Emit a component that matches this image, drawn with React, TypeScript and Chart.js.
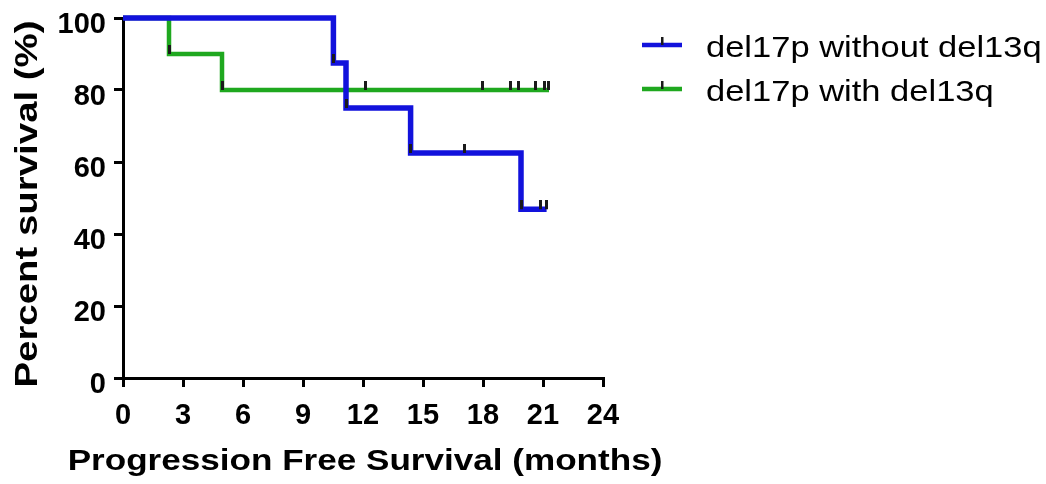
import React, { useEffect, useRef } from 'react';
import { Chart, registerables } from 'chart.js';

Chart.register(...registerables);

// ---- data ----
const seriesLabels = ['del17p without del13q', 'del17p with del13q'];
const seriesColors = ['#1212dc', '#1fa81f'];

// del17p without del13q: Kaplan-Meier steps
const blueTimes = [0, 10.52, 11.15, 14.38, 19.9, 21.18];
const blueSurvival = [100, 87.5, 75, 62.5, 46.875, 46.875];
const blueCensorTimes = [10.52, 11.15, 14.38, 17.07, 19.9, 20.85, 21.15];
const blueCensorSurvival = [87.5, 75, 62.5, 62.5, 46.875, 46.875, 46.875];

// del17p with del13q
const greenTimes = [0, 2.3, 4.95, 21.3];
const greenSurvival = [100, 90, 80, 80];
const greenCensorTimes = [2.3, 4.95, 12.13, 17.98, 19.35, 19.77, 20.6, 21.07, 21.27];
const greenCensorSurvival = [90, 80, 80, 80, 80, 80, 80, 80, 80];

const xTickValues = [0, 3, 6, 9, 12, 15, 18, 21, 24];
const yTickValues = [0, 20, 40, 60, 80, 100];

const xTitle = 'Progression Free Survival (months)';
const yTitle = 'Percent survival (%)';

const toPoints = (xs: number[], ys: number[]) => xs.map((x, i) => ({ x, y: ys[i] }));

function makeCensorMark(): HTMLCanvasElement {
  const c = document.createElement('canvas');
  c.width = 3;
  c.height = 18;
  const g = c.getContext('2d')!;
  g.fillStyle = '#1a1a1a';
  g.fillRect(0, 0, 3, 9);
  return c;
}

const textPlugin = {
  id: 'kmText',
  afterDraw(chart: any) {
    const { ctx, chartArea } = chart;
    ctx.save();
    ctx.fillStyle = '#000';
    // x axis title
    ctx.save();
    ctx.font = 'bold 29px "Liberation Sans", Arial, sans-serif';
    ctx.textAlign = 'center';
    ctx.textBaseline = 'alphabetic';
    ctx.translate((chartArea.left + chartArea.right) / 2 + 2, chartArea.bottom + 92);
    ctx.scale(1.21, 1);
    ctx.fillText(xTitle, 0, 0);
    ctx.restore();
    // y axis title
    ctx.save();
    ctx.font = 'bold 32px "Liberation Sans", Arial, sans-serif';
    ctx.textAlign = 'center';
    ctx.textBaseline = 'alphabetic';
    ctx.translate(chartArea.left - 86, (chartArea.top + chartArea.bottom) / 2 + 6);
    ctx.rotate(-Math.PI / 2);
    ctx.scale(1.2, 1);
    ctx.fillText(yTitle, 0, 0);
    ctx.restore();
    // legend
    seriesLabels.forEach((label, i) => {
      const y0 = 45 + i * 44;
      const x0 = chartArea.right + 39;
      ctx.save();
      ctx.strokeStyle = seriesColors[i];
      ctx.lineWidth = 4.5;
      ctx.beginPath();
      ctx.moveTo(x0, y0);
      ctx.lineTo(x0 + 40, y0);
      ctx.stroke();
      ctx.fillStyle = '#1a1a1a';
      ctx.fillRect(x0 + 19, y0 - 8, 2.5, 8);
      ctx.fillStyle = '#000';
      ctx.font = '30px "Liberation Sans", Arial, sans-serif';
      ctx.textAlign = 'left';
      ctx.textBaseline = 'alphabetic';
      ctx.translate(x0 + 64, y0 + 12);
      ctx.scale(1.15, 1);
      ctx.fillText(label, 0, 0);
      ctx.restore();
    });
    ctx.restore();
  },
};

export default function App() {
  const canvasRef = useRef<HTMLCanvasElement | null>(null);

  useEffect(() => {
    if (!canvasRef.current) return;
    const mark = makeCensorMark();
    const tickFont = { family: '"Liberation Sans", Arial, sans-serif', size: 29, weight: 'bold' as const };
    const chart = new Chart(canvasRef.current, {
      type: 'line',
      data: {
        datasets: [
          {
            label: seriesLabels[0],
            data: toPoints(blueTimes, blueSurvival),
            borderColor: seriesColors[0],
            borderWidth: 5.5,
            stepped: 'before',
            pointRadius: 0,
            fill: false,
            clip: false,
            order: 0,
          },
          {
            label: seriesLabels[1],
            data: toPoints(greenTimes, greenSurvival),
            borderColor: seriesColors[1],
            borderWidth: 4.5,
            stepped: 'before',
            pointRadius: 0,
            fill: false,
            clip: false,
            order: 0,
          },
          {
            label: seriesLabels[0] + ' censored',
            data: toPoints(blueCensorTimes, blueCensorSurvival),
            showLine: false,
            pointStyle: mark,
            pointRadius: 5,
            clip: false,
            order: -1,
          },
          {
            label: seriesLabels[1] + ' censored',
            data: toPoints(greenCensorTimes, greenCensorSurvival),
            showLine: false,
            pointStyle: mark,
            pointRadius: 5,
            clip: false,
            order: -1,
          },
        ],
      },
      options: {
        animation: false,
        responsive: true,
        maintainAspectRatio: false,
        events: [],
        layout: { padding: { left: 0, top: 18, right: 443, bottom: 0 } },
        plugins: { legend: { display: false }, tooltip: { enabled: false } },
        scales: {
          x: {
            type: 'linear',
            min: 0,
            max: 24,
            afterBuildTicks: (s: any) => {
              s.ticks = xTickValues.map((v) => ({ value: v }));
            },
            afterFit: (s: any) => {
              s.height = 106;
              s.paddingLeft = 0;
              s.paddingRight = 0;
            },
            border: { display: true, color: '#000', width: 3 },
            grid: { drawOnChartArea: false, drawTicks: true, tickLength: 9, color: '#000', lineWidth: 3 },
            ticks: { color: '#000', font: tickFont, padding: 12, maxRotation: 0, autoSkip: false },
          },
          y: {
            type: 'linear',
            min: 0,
            max: 100,
            afterBuildTicks: (s: any) => {
              s.ticks = yTickValues.map((v) => ({ value: v }));
            },
            afterFit: (s: any) => {
              s.width = 123;
              s.paddingTop = 0;
              s.paddingBottom = 0;
            },
            border: { display: true, color: '#000', width: 3 },
            grid: { drawOnChartArea: false, drawTicks: true, tickLength: 9, color: '#000', lineWidth: 3 },
            ticks: { color: '#000', font: tickFont, padding: 8, labelOffset: 7, autoSkip: false },
          },
        },
      },
      plugins: [textPlugin],
    });
    return () => chart.destroy();
  }, []);

  return (
    <div style={{ position: 'fixed', left: 0, top: 0, width: 1046, height: 484, background: '#fff' }}>
      <canvas ref={canvasRef} />
    </div>
  );
}
